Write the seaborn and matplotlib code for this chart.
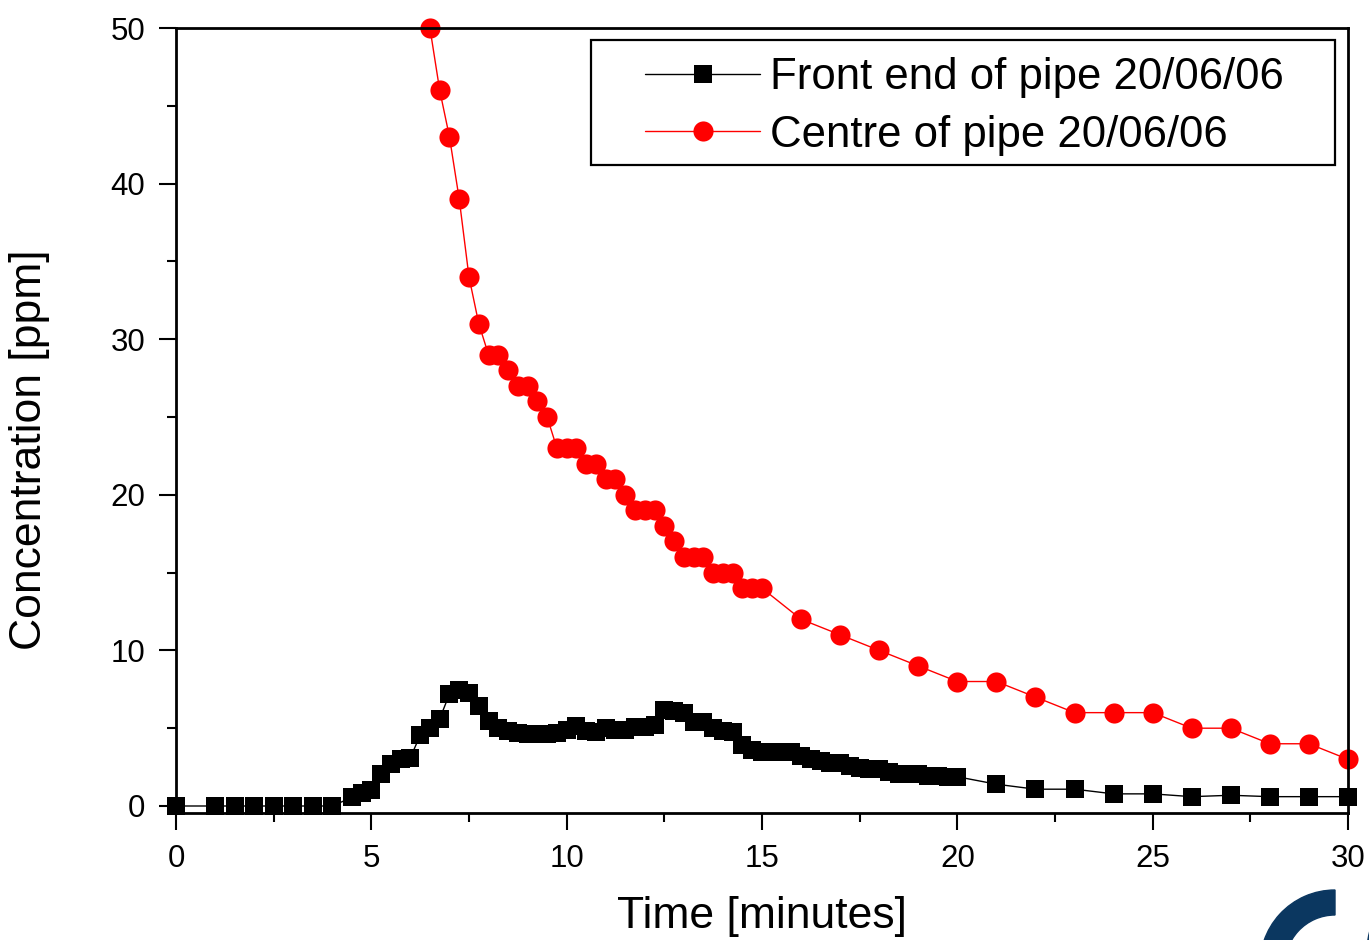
import matplotlib
matplotlib.use("Agg")
import matplotlib.pyplot as plt
from matplotlib.patches import Wedge, Rectangle
import seaborn as sns
import pandas as pd

# ---- data ----
front_time = [0, 1, 1.5, 2, 2.5, 3, 3.5, 4,
              4.5, 4.75, 5.0, 5.25, 5.5, 5.75, 6.0, 6.25, 6.5, 6.75,
              7.0, 7.25, 7.5, 7.75, 8.0, 8.25, 8.5, 8.75, 9.0, 9.25,
              9.5, 9.75, 10.0, 10.25, 10.5, 10.75, 11.0, 11.25, 11.5, 11.75,
              12.0, 12.25, 12.5, 12.75, 13.0, 13.25, 13.5, 13.75, 14.0, 14.25,
              14.5, 14.75, 15.0, 15.25, 15.5, 15.75, 16.0, 16.25, 16.5, 16.75,
              17.0, 17.25, 17.5, 17.75, 18.0, 18.25, 18.5, 18.75, 19.0, 19.25,
              19.5, 19.75, 20.0,
              21, 22, 23, 24, 25, 26, 27, 28, 29, 30]
front_conc = [0, 0, 0, 0, 0, 0, 0, 0,
              0.55, 0.85, 1.05, 2.05, 2.7, 3.0, 3.1, 4.55, 5.0, 5.6,
              7.2, 7.45, 7.25, 6.45, 5.45, 5.0, 4.8, 4.7, 4.65, 4.6,
              4.6, 4.7, 4.9, 5.15, 4.8, 4.75, 5.0, 4.9, 4.9, 5.05,
              5.1, 5.2, 6.15, 6.1, 6.0, 5.4, 5.4, 5.0, 4.8, 4.75,
              3.9, 3.6, 3.5, 3.5, 3.47, 3.45, 3.2, 3.05, 2.9, 2.75,
              2.74, 2.6, 2.46, 2.36, 2.35, 2.2, 2.08, 2.08, 2.06, 1.93,
              1.93, 1.88, 1.88,
              1.4, 1.08, 1.08, 0.78, 0.78, 0.6, 0.69, 0.6, 0.6, 0.6]

centre_time = [6.5, 6.75, 7.0, 7.25, 7.5, 7.75, 8.0, 8.25, 8.5, 8.75,
               9.0, 9.25, 9.5, 9.75, 10.0, 10.25, 10.5, 10.75, 11.0, 11.25,
               11.5, 11.75, 12.0, 12.25, 12.5, 12.75, 13.0, 13.25, 13.5, 13.75,
               14.0, 14.25, 14.5, 14.75, 15.0,
               16, 17, 18, 19, 20, 21, 22, 23, 24, 25, 26, 27, 28, 29, 30]
centre_conc = [50, 46, 43, 39, 34, 31, 29, 29, 28, 27,
               27, 26, 25, 23, 23, 23, 22, 22, 21, 21,
               20, 19, 19, 19, 18, 17, 16, 16, 16, 15,
               15, 15, 14, 14, 14,
               12, 11, 10, 9, 8, 8, 7, 6, 6, 6, 5, 5, 4, 4, 3]

labels = ["Front end of pipe 20/06/06", "Centre of pipe 20/06/06"]
x_ticks = [0, 5, 10, 15, 20, 25, 30]
y_ticks = [0, 10, 20, 30, 40, 50]

# ---- style ----
sns.set_style("ticks")
plt.rcParams["font.family"] = ["Liberation Sans", "DejaVu Sans"]
plt.rcParams["text.color"] = "black"
plt.rcParams["axes.labelcolor"] = "black"
plt.rcParams["xtick.color"] = "black"
plt.rcParams["ytick.color"] = "black"

fig = plt.figure(figsize=(13.69, 9.40), dpi=100)
ax = fig.add_axes([176/1369, 1 - 813/940, (1348-176)/1369, (813-28)/940])

df_front = pd.DataFrame({"t": front_time, "c": front_conc})
df_centre = pd.DataFrame({"t": centre_time, "c": centre_conc})

sns.lineplot(data=df_front, x="t", y="c", ax=ax, color="black", lw=1.0,
             marker="s", markersize=13.5, markeredgewidth=0,
             label=labels[0], clip_on=False, sort=False)
sns.lineplot(data=df_centre, x="t", y="c", ax=ax, color="#ff0000", lw=1.0,
             marker="o", markersize=14.5, markeredgewidth=0,
             label=labels[1], clip_on=False, sort=False)

ax.set_xlim(0, 30)
ax.set_ylim(-0.45, 50)
ax.set_xticks(x_ticks)
ax.set_yticks(y_ticks)
ax.set_xticks([2.5, 7.5, 12.5, 17.5, 22.5, 27.5], minor=True)
ax.set_yticks([5, 15, 25, 35, 45], minor=True)
ax.tick_params(axis="both", which="major", length=12.5, width=1.5,
               labelsize=22.5, pad=9.5, direction="out",
               color="black", labelcolor="black")
ax.tick_params(axis="both", which="minor", length=6.5, width=1.5,
               direction="out", color="black")
for s in ax.spines.values():
    s.set_visible(True)
    s.set_linewidth(2.0)
    s.set_color("black")

ax.set_xlabel("Time [minutes]", fontsize=32, labelpad=16, color="black")
ax.set_ylabel("Concentration [ppm]", fontsize=32, color="black")
ax.yaxis.set_label_coords((50 - 176) / 1172, (813 - 450) / 785)

# legend: frame drawn as a box in axes fraction, entries placed inside
ax.add_patch(Rectangle(((591 - 176) / 1172, (813 - 165) / 785),
                       (1335 - 591) / 1172, (165 - 40) / 785,
                       transform=ax.transAxes, fill=True, facecolor="white",
                       edgecolor="black", lw=1.6, zorder=5, clip_on=False))
leg = ax.legend(loc="upper left", fontsize=31.5, frameon=False,
                handlelength=2.63, handletextpad=0.22, borderpad=0,
                labelspacing=0.38, borderaxespad=0,
                bbox_to_anchor=((645 - 176) / 1172, (813 - 57) / 785))
leg.set_zorder(6)

# partial logo in bottom-right corner
fig.add_artist(Wedge((13.35, -0.25), 0.75, 90, 185, width=0.25,
                     transform=fig.dpi_scale_trans, color="#0b3760"))
fig.add_artist(Wedge((14.47, -0.12), 0.80, 150, 215, width=0.25,
                     transform=fig.dpi_scale_trans, color="#0b3760"))

fig.savefig("out.png", dpi=100)
